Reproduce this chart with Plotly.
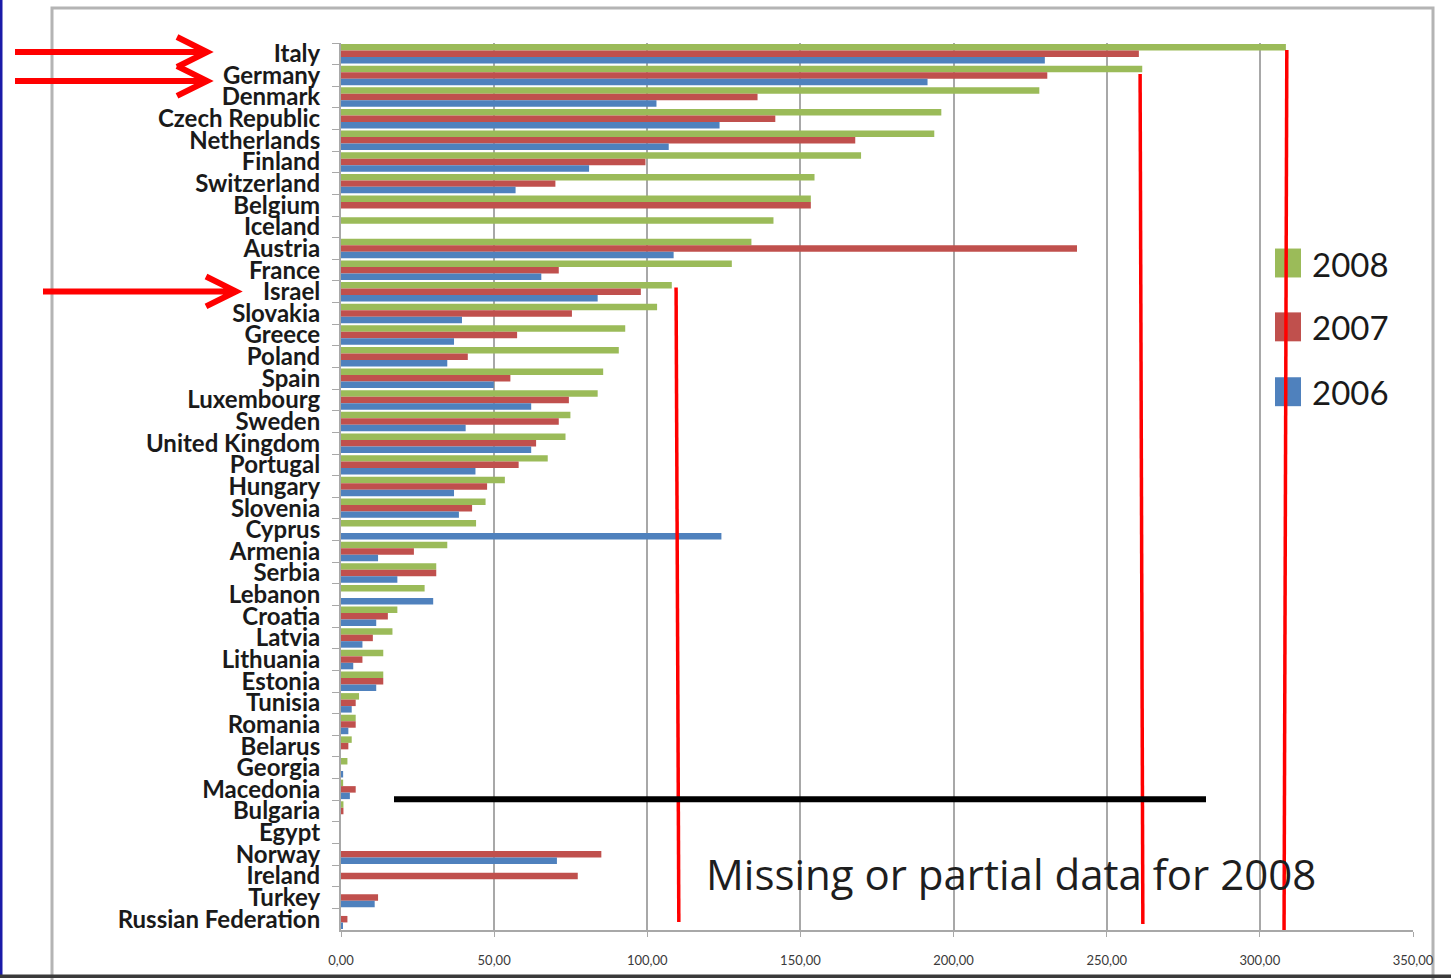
import plotly.graph_objects as go

# Countries, top to bottom
countries = [
    "Italy", "Germany", "Denmark", "Czech Republic", "Netherlands", "Finland",
    "Switzerland", "Belgium", "Iceland", "Austria", "France", "Israel",
    "Slovakia", "Greece", "Poland", "Spain", "Luxembourg", "Sweden",
    "United Kingdom", "Portugal", "Hungary", "Slovenia", "Cyprus", "Armenia",
    "Serbia", "Lebanon", "Croatia", "Latvia", "Lithuania", "Estonia",
    "Tunisia", "Romania", "Belarus", "Georgia", "Macedonia", "Bulgaria",
    "Egypt", "Norway", "Ireland", "Turkey", "Russian Federation",
]

values_2008 = [
    308.5, 261.6, 228.0, 196.0, 193.7, 169.8, 154.6, 153.4, 141.2, 134.0,
    127.6, 108.0, 103.2, 92.8, 90.7, 85.6, 83.8, 74.9, 73.3, 67.5,
    53.5, 47.2, 44.1, 34.7, 31.1, 27.3, 18.4, 16.8, 13.8, 13.8,
    5.9, 4.8, 3.5, 2.1, 0.7, 0.8, None, None, None, None, None,
]
values_2007 = [
    260.5, 230.6, 136.0, 141.8, 167.9, 99.4, 70.0, 153.4, None, 240.3,
    71.1, 97.9, 75.4, 57.5, 41.4, 55.3, 74.4, 71.1, 63.7, 58.0,
    47.7, 42.8, None, 23.8, 31.1, None, 15.3, 10.4, 7.0, 13.8,
    4.8, 4.8, 2.4, None, 4.8, 0.8, None, 85.0, 77.3, 12.1, 2.1,
]
values_2006 = [
    229.8, 191.5, 103.0, 123.6, 107.0, 81.0, 57.0, None, None, 108.6,
    65.4, 83.8, 39.5, 36.9, 34.7, 49.9, 62.1, 40.7, 62.1, 43.9,
    36.9, 38.5, 124.2, 12.1, 18.4, 30.1, 11.5, 7.0, 4.0, 11.5,
    3.5, 2.4, None, 0.7, 2.9, None, None, 70.5, None, 11.0, 0.4,
]

series = [
    ("2008", values_2008, "#9bbb59"),
    ("2007", values_2007, "#c0504d"),
    ("2006", values_2006, "#4f81bd"),
]

W, H = 1451, 980
PL, PR, PT, PB = 341, 1413, 43, 932  # plot area in pixels


def px(x):
    return (x - PL) / (PR - PL)


def py(y):
    return (PB - y) / (PB - PT)


fig = go.Figure()
for name, vals, color in series:
    fig.add_trace(go.Bar(
        y=countries, x=vals, name=name, orientation="h",
        marker=dict(color=color, line=dict(width=0)),
        showlegend=False,
    ))

shapes = []
annotations = []

# Legend: large colour squares with year labels
legend_y = [264, 328, 393]
for (name, _, color), cy in zip(series, legend_y):
    shapes.append(dict(type="rect", xref="paper", yref="paper",
                       x0=px(1275), x1=px(1301), y0=py(cy - 15), y1=py(cy + 14),
                       fillcolor=color, line=dict(width=0), layer="above"))
    annotations.append(dict(text=name, xref="paper", yref="paper",
                            x=px(1310), y=py(cy), xanchor="left", yanchor="middle",
                            showarrow=False,
                            font=dict(family="Lato", size=33, color="#1a1a1a")))

# Red markers on the 2008 values of Israel, Germany and Italy
for x_top, x_bot, y_top, y_bot in [(109.4, 110.3, 288, 924),
                                    (260.9, 261.8, 74, 926),
                                    (308.8, 307.9, 50, 932)]:
    shapes.append(dict(type="line", xref="x", yref="paper",
                       x0=x_top, x1=x_bot, y0=py(y_top), y1=py(y_bot),
                       line=dict(color="#ff0000", width=3.5), layer="above"))

# Separator above countries with missing 2008 data
shapes.append(dict(type="line", xref="paper", yref="paper",
                   x0=px(394), x1=px(1206), y0=py(801), y1=py(801),
                   line=dict(color="#000000", width=6), layer="above"))

annotations.append(dict(text="Missing or partial data for 2008",
                        xref="paper", yref="paper", x=px(1011), y=py(875),
                        xanchor="center", yanchor="middle", showarrow=False,
                        font=dict(family="Open Sans", size=42, color="#1e1e1e")))


# Arrows pointing at Italy, Germany and Israel
def arrow(x0, x_tip, y):
    return (f"M {px(x0)},{py(y)} L {px(x_tip)},{py(y)} "
            f"M {px(x_tip - 30)},{py(y - 15)} L {px(x_tip)},{py(y)} "
            f"L {px(x_tip - 30)},{py(y + 15)}")


for x0, x_tip, y in [(15, 207, 52), (15, 207, 81), (43, 236, 292)]:
    shapes.append(dict(type="path", xref="paper", yref="paper",
                       path=arrow(x0, x_tip, y),
                       line=dict(color="#ff0000", width=6), layer="above"))

# Chart frame and page edges
shapes.append(dict(type="rect", xref="paper", yref="paper",
                   x0=px(52), x1=px(1433), y0=py(990), y1=py(8),
                   line=dict(color="#b4b4b4", width=3), layer="below"))
shapes.append(dict(type="rect", xref="paper", yref="paper",
                   x0=px(0), x1=px(2.5), y0=py(980), y1=py(0),
                   fillcolor="#1a1aa8", line=dict(width=0), layer="above"))
shapes.append(dict(type="rect", xref="paper", yref="paper",
                   x0=px(0), x1=px(1451), y0=py(980), y1=py(976.5),
                   fillcolor="#3a3a3a", line=dict(width=0), layer="above"))

fig.update_layout(
    width=W, height=H,
    margin=dict(l=PL, r=W - PR, t=PT, b=H - PB),
    paper_bgcolor="#ffffff", plot_bgcolor="#ffffff",
    barmode="group", bargap=0.1, bargroupgap=0.0,
    separators=",.",
    shapes=shapes, annotations=annotations,
    xaxis=dict(
        range=[0, 350], dtick=50, tickformat=".2f",
        showgrid=True, gridcolor="#a8a8a8", gridwidth=2,
        showline=True, linecolor="#a8a8a8", linewidth=2,
        ticks="outside", ticklen=5, tickcolor="#a8a8a8",
        ticklabelstandoff=12,
        tickfont=dict(family="Lato", size=13, color="#3a3a3a"),
        zeroline=False,
    ),
    yaxis=dict(
        autorange="reversed", type="category", dtick=1,
        showline=True, linecolor="#a8a8a8", linewidth=2,
        ticks="outside", ticklen=7, tickcolor="#a8a8a8", tickson="boundaries",
        ticklabelstandoff=14,
        tickfont=dict(family="Lato", size=24, color="#1a1a1a", weight="bold"),
        showgrid=False,
    ),
)

fig.write_html("out.html")
